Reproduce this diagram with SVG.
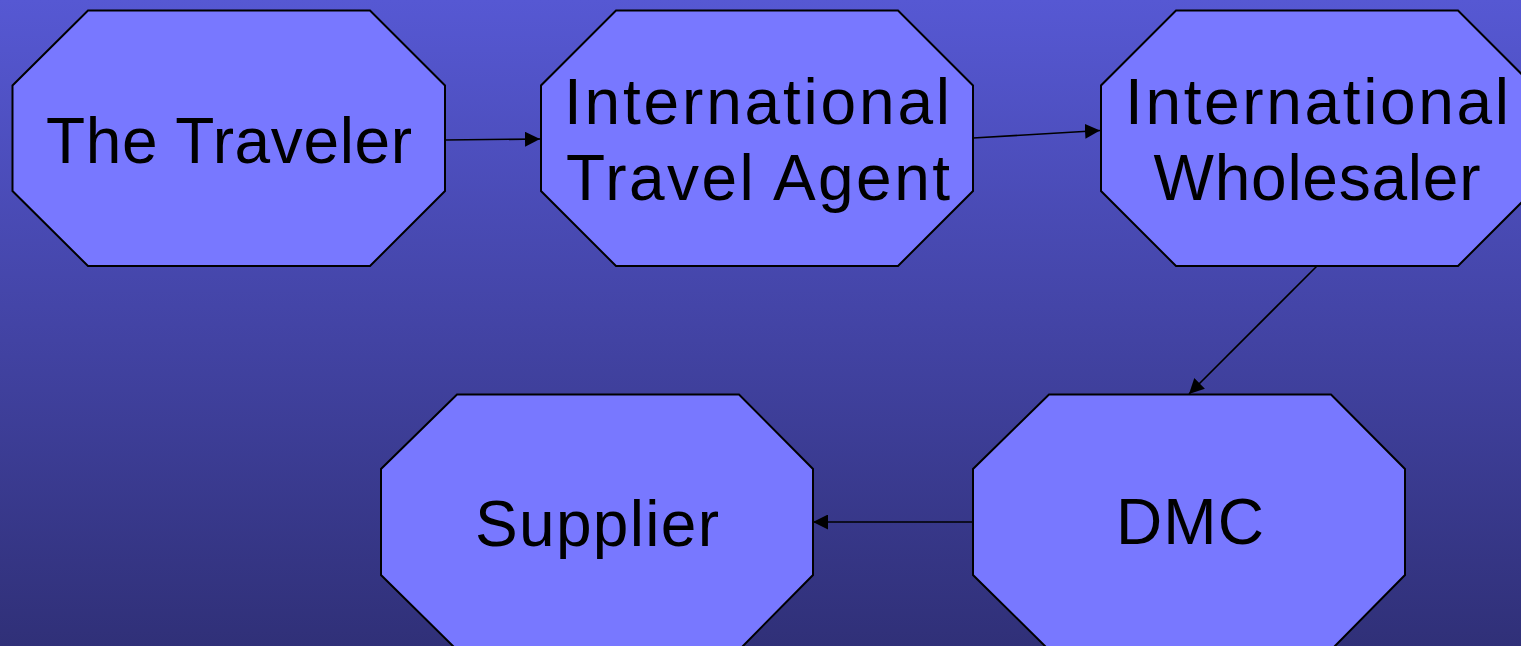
<svg xmlns="http://www.w3.org/2000/svg" width="1521" height="646" viewBox="0 0 1521 646">
  <defs>
    <linearGradient id="bg" x1="0" y1="0" x2="0" y2="1">
      <stop offset="0" stop-color="#5658d3"/>
      <stop offset="1" stop-color="#303078"/>
    </linearGradient>
    <marker id="arr" markerUnits="userSpaceOnUse" markerWidth="16" markerHeight="15" refX="15" refY="7.5" orient="auto">
      <path d="M0,0 L15,7.5 L0,15 z" fill="#000"/>
    </marker>
  </defs>
  <style>
    .node { fill: #7878ff; stroke: #000; stroke-width: 2; }
    .lbl { font-family: "Liberation Sans", Arial, sans-serif; font-size: 64px; fill: #000; text-anchor: middle; }
    .edge { stroke: #000; stroke-width: 1.6; fill: none; marker-end: url(#arr); }
  </style>
  <rect x="0" y="0" width="1521" height="646" fill="url(#bg)"/>

  <g id="traveler">
    <polygon class="node" points="88,10.5 370,10.5 445,85.5 445,191 370,266 88,266 12.5,191 12.5,85.5"/>
    <text class="lbl" x="229" y="163" textLength="366">The Traveler</text>
  </g>
  <g id="travel-agent">
    <polygon class="node" points="616,10.5 898,10.5 973,85.5 973,191 898,266 616,266 541,191 541,85.5"/>
    <text class="lbl" x="757" y="124" textLength="386">International</text>
    <text class="lbl" x="758" y="200" textLength="384">Travel Agent</text>
  </g>
  <g id="wholesaler">
    <polygon class="node" points="1176,10.5 1458,10.5 1533,85.5 1533,191 1458,266 1176,266 1101,191 1101,85.5"/>
    <text class="lbl" x="1317" y="124" textLength="384">International</text>
    <text class="lbl" x="1317" y="200" textLength="327">Wholesaler</text>
  </g>
  <g id="supplier">
    <polygon class="node" points="457,394.5 739,394.5 813,469 813,575 739,650 457,650 381,575 381,469"/>
    <text class="lbl" x="597" y="546" textLength="244">Supplier</text>
  </g>
  <g id="dmc">
    <polygon class="node" points="1049,394.5 1331,394.5 1405,469 1405,575 1331,650 1049,650 973,575 973,469"/>
    <text class="lbl" x="1190" y="544" textLength="148">DMC</text>
  </g>

  <g id="connectors">
    <line class="edge" x1="445" y1="140" x2="540" y2="139"/>
    <line class="edge" x1="973" y1="138" x2="1100" y2="130.5"/>
    <line class="edge" x1="1317" y1="266" x2="1189" y2="394"/>
    <line class="edge" x1="973" y1="522" x2="813" y2="522"/>
  </g>
</svg>
